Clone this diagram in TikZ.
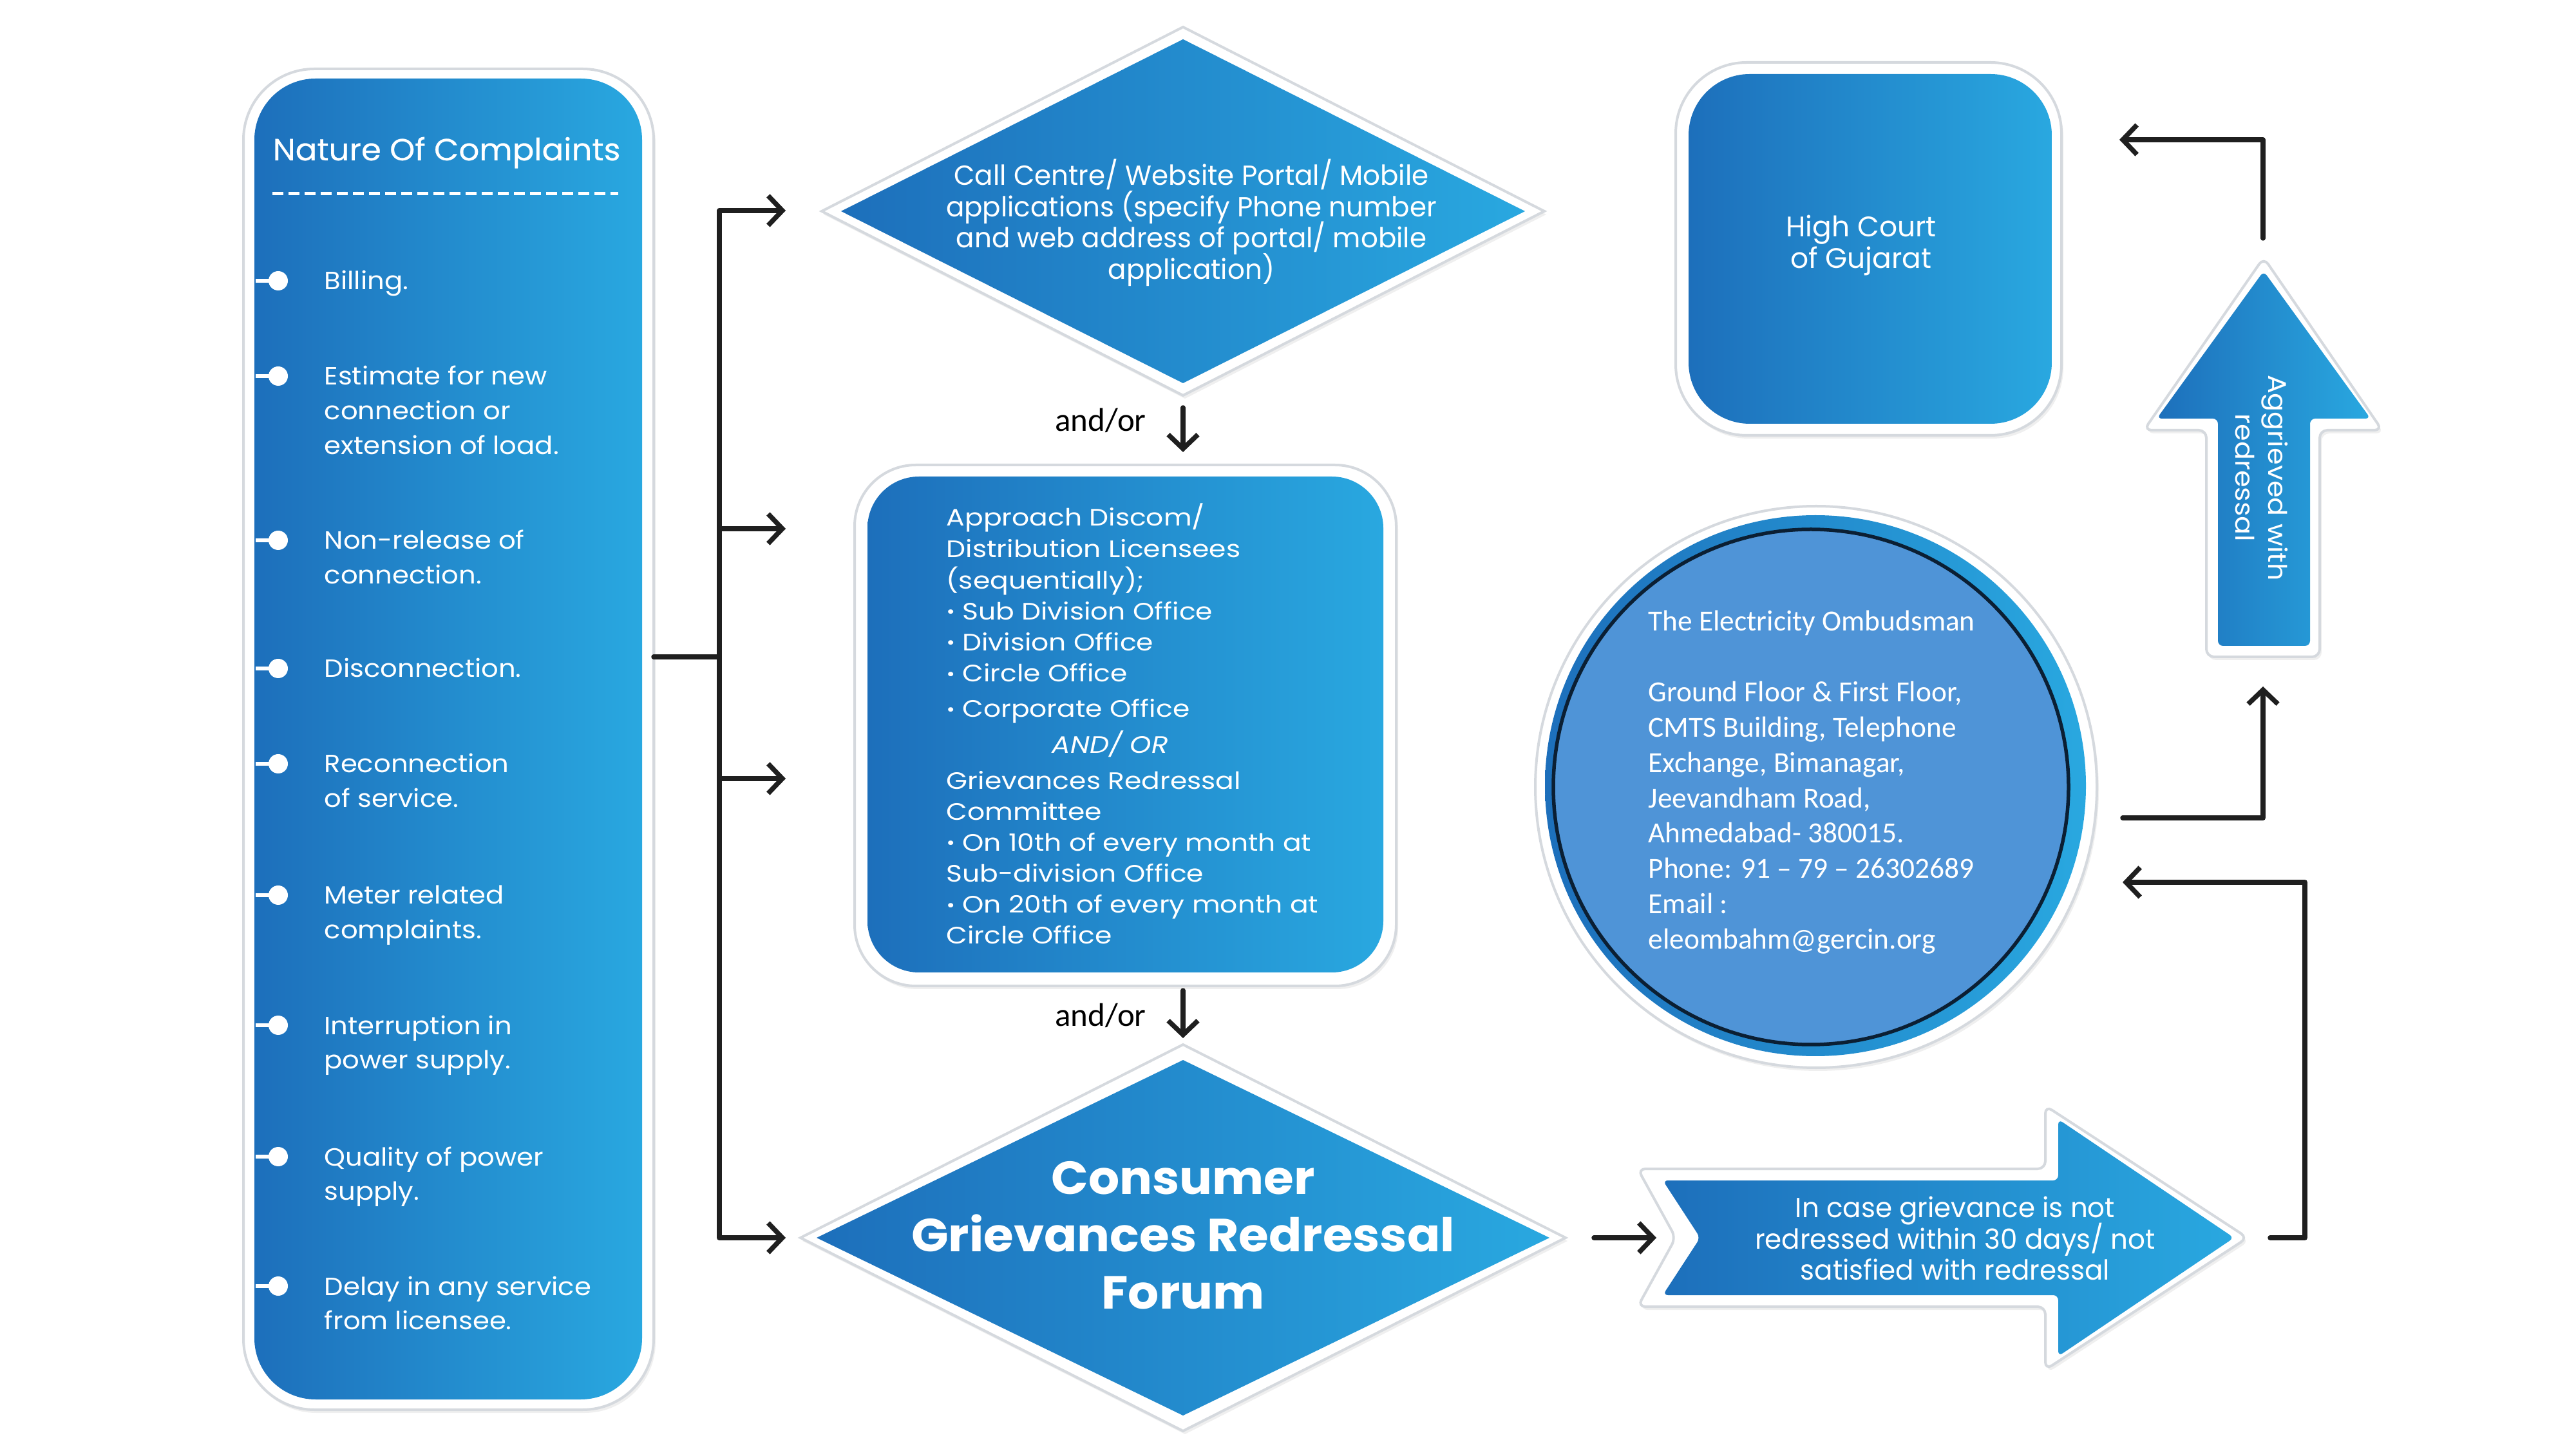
\documentclass[tikz,border=0pt]{standalone}
\usepackage{fontspec}
\setmainfont{Poppins}
\newfontfamily\popc{Poppins}[FakeStretch=0.98]
\newfontfamily\popw{Poppins}[FakeStretch=1.08]
\newfontfamily\popx{Poppins}[FakeStretch=1.15]
\newfontfamily\popb{Poppins}[FakeStretch=1.05]
\newfontfamily\popm{Poppins}[FakeBold=0.5,FakeStretch=1.05]
\newfontfamily\carl{Carlito}
\newcommand\mylines[1]{\begin{tabular}[t]{@{}l@{}}#1\end{tabular}}
\newcommand\bul{{\fontsize{8}{7}\selectfont\raisebox{0.7pt}{•}}}
\newcommand\tightls{\lineskiplimit-20pt\relax}
\usetikzlibrary{arrows.meta,calc,shadows}
\definecolor{bL}{HTML}{1D6FBB}
\definecolor{bR}{HTML}{29A8E0}
\definecolor{circfill}{HTML}{4F94D7}
\definecolor{navy}{HTML}{0B1F33}
\definecolor{edge}{HTML}{D5D9DE}
\begin{document}
\begin{tikzpicture}[
  frame/.style={fill=white, draw=edge, line width=0.04cm, drop shadow={opacity=0.12, shadow xshift=0.03cm, shadow yshift=-0.05cm}},
  grad/.style={left color=bL, right color=bR},
  conn/.style={draw=black!88, line width=0.075cm, line cap=round, line join=round},
  arr/.style={conn, -{Straight Barb[length=0.22cm,width=0.46cm]}},
  wtext/.style={text=white, inner sep=0pt},
  itemtext/.style={wtext, anchor=base west, font=\popw\fontsize{11}{15.3}\selectfont},
  ghost/.style={inner sep=0pt, outer sep=0pt},
  andor/.style={font=\carl\fontsize{14.5}{17}\selectfont, inner sep=0pt},
]
\useasboundingbox (0,0) rectangle (40,-22.5);
\fill[white] (0,0) rectangle (40,-22.5);

% ---------- Left panel ----------
\path[frame, rounded corners=1.1cm] (3.78,-1.07) rectangle (10.15,-21.89);
\shade[grad, rounded corners=0.95cm] (3.95,-1.22) rectangle (9.97,-21.73);
\node[ghost, minimum width=6.37cm, minimum height=20.82cm] (nature) at (6.965,-11.48) {};
\node[wtext, anchor=west, font=\popm\fontsize{13.5}{15}\selectfont] (title) at (4.23,-2.37) {Nature Of Complaints};
\draw[white, line width=0.05cm, dash pattern=on 0.17cm off 0.08cm] (4.23,-3.01) -- (9.60,-3.01);
\foreach \y/\t [count=\i] in {
  4.36/{Billing.},
  5.84/{Estimate for new\\connection or\\extension of load.},
  8.39/{Non-release of\\connection.},
  10.38/{Disconnection.},
  11.86/{Reconnection\\of service.},
  13.90/{Meter related\\complaints.},
  15.92/{Interruption in\\power supply.},
  17.96/{Quality of power\\supply.},
  19.97/{Delay in any service\\from licensee.}} {
  \draw[white, line width=0.06cm] (3.97,-\y) -- (4.32,-\y);
  \fill[white] (4.32,-\y) circle (0.15);
  \node[itemtext] (item\i) at (5.03,{-\y-0.14}) {\mylines{\t}};
}

% ---------- Call centre diamond ----------
\path[frame] (12.76,-3.28) -- (18.37,-0.42) -- (23.98,-3.28) -- (18.37,-6.14) -- cycle;
\shade[grad] (13.06,-3.28) -- (18.37,-0.61) -- (23.68,-3.28) -- (18.37,-5.95) -- cycle;
\node[ghost, minimum width=11.22cm, minimum height=5.72cm] (cc) at (18.37,-3.28) {};
\node[wtext, align=center, font=\popc\fontsize{12.2}{13.8}\selectfont\tightls] (cctext) at (18.50,-3.46)
  {Call Centre/ Website Portal/ Mobile\\applications (specify Phone number\\and web address of portal/ mobile\\application)};

% ---------- Approach box ----------
\path[frame, rounded corners=0.95cm] (13.27,-7.22) rectangle (21.68,-15.31);
\shade[grad, rounded corners=0.8cm] (13.47,-7.40) rectangle (21.48,-15.10);
\node[ghost, minimum width=8.41cm, minimum height=8.09cm] (app) at (17.475,-11.265) {};
\node[wtext, anchor=base west, font=\popx\fontsize{10.5}{13.7}\selectfont] (apptext) at (14.69,-8.17)
  {\mylines{Approach Discom/\\Distribution Licensees\\(sequentially);\\\bul\ Sub Division Office\\\bul\ Division Office\\\bul\ Circle Office\\[2pt]\bul\ Corporate Office\\[2pt]\hspace*{1.64cm}\textit{AND/ OR}\\[2pt]Grievances Redressal\\Committee\\\bul\ On 10th of every month at\\Sub-division Office\\\bul\ On 20th of every month at\\Circle Office}};

% ---------- CGRF diamond ----------
\path[frame] (12.43,-19.22) -- (18.37,-16.22) -- (24.31,-19.22) -- (18.37,-22.22) -- cycle;
\shade[grad] (12.68,-19.22) -- (18.37,-16.46) -- (24.06,-19.22) -- (18.37,-21.98) -- cycle;
\node[ghost, minimum width=11.88cm, minimum height=6.0cm] (cgrf) at (18.37,-19.22) {};
\node[wtext, align=center, font=\popb\bfseries\fontsize{20.5}{25.3}\selectfont] (cgrftext) at (18.37,-19.18)
  {Consumer\\Grievances Redressal\\Forum};

% ---------- In case arrow ----------
\path[frame, rounded corners=0.12cm] (25.43,-18.15) -- (31.76,-18.15) -- (31.76,-17.17) -- (34.90,-19.22) -- (31.76,-21.27) -- (31.76,-20.29) -- (25.43,-20.29) -- (26.02,-19.22) -- cycle;
\shade[grad, rounded corners=0.08cm] (25.82,-18.33) -- (31.96,-18.33) -- (31.96,-17.38) -- (34.69,-19.22) -- (31.96,-21.06) -- (31.96,-20.11) -- (25.82,-20.11) -- (26.40,-19.22) -- cycle;
\node[ghost, minimum width=9.47cm, minimum height=4.1cm] (incase) at (30.165,-19.22) {};
\node[wtext, align=center, font=\popc\fontsize{12.2}{13.8}\selectfont\tightls] (incasetext) at (30.36,-19.23)
  {In case grievance is not\\redressed within 30 days/ not\\satisfied with redressal};

% ---------- Ombudsman circle ----------
\path[fill=white, draw=edge, line width=0.04cm, drop shadow={opacity=0.12, shadow xshift=0.03cm, shadow yshift=-0.05cm}] (28.20,-12.22) circle (4.36);
\shade[grad] (28.19,-12.20) circle (4.20);
\draw[navy, fill=circfill, line width=0.055cm] (28.12,-12.22) circle (4.00);
\node[ghost, circle, minimum size=8.72cm] (omb) at (28.20,-12.22) {};
\node[wtext, anchor=base west, font=\carl\fontsize{12.9}{15.6}\selectfont] (ombtext) at (25.59,-9.80)
  {\mylines{The Electricity Ombudsman\\[15.6pt]Ground Floor \& First Floor,\\CMTS Building, Telephone\\Exchange, Bimanagar,\\Jeevandham Road,\\Ahmedabad- 380015.\\Phone: 91 – 79 – 26302689\\Email :\\eleombahm@gercin.org}};

% ---------- High Court ----------
\path[frame, rounded corners=1.1cm] (26.02,-0.97) rectangle (32.01,-6.76);
\shade[grad, rounded corners=0.95cm] (26.22,-1.15) rectangle (31.86,-6.58);
\node[ghost, minimum width=5.99cm, minimum height=5.79cm] (hc) at (29.015,-3.865) {};
\node[wtext, align=center, font=\fontsize{12.5}{13.7}\selectfont\tightls] (hctext) at (28.90,-3.81) {High Court\\of Gujarat};

% ---------- Up arrow ----------
\path[frame, rounded corners=0.12cm] (35.15,-4.00) -- (36.99,-6.68) -- (36.02,-6.68) -- (36.02,-10.20) -- (34.26,-10.20) -- (34.26,-6.68) -- (33.29,-6.68) -- cycle;
\shade[grad, rounded corners=0.08cm] (35.15,-4.21) -- (36.81,-6.50) -- (35.87,-6.50) -- (35.87,-10.03) -- (34.44,-10.03) -- (34.44,-6.50) -- (33.49,-6.50) -- cycle;
\node[ghost, minimum width=3.70cm, minimum height=6.20cm] (agg) at (35.14,-7.10) {};
\node[wtext, align=center, rotate=-90, font=\popw\fontsize{11.3}{14.5}\selectfont] (aggtext) at (35.12,-7.42) {Aggrieved with\\redressal};

% ---------- Connectors ----------
\coordinate (jn) at (11.17,-10.20);
\coordinate (e1) at (12.20,-3.27);
\coordinate (e2) at (12.20,-8.21);
\coordinate (e3) at (12.20,-12.09);
\coordinate (e4) at (12.20,-19.22);
\draw[conn] (nature.east |- jn) -- (jn);
\draw[conn] (jn |- e1) -- (jn |- e4);
\draw[arr] (jn |- e1) -- (e1);
\draw[arr] (jn |- e2) -- (e2);
\draw[arr] (jn |- e3) -- (e3);
\draw[arr] (jn |- e4) -- (e4);

\coordinate (d1) at (18.37,-7.02);
\coordinate (d2) at (18.37,-15.38);
\draw[arr] ([yshift=-0.19cm]cc.south) -- (d1);
\node[andor] (ao1) at (17.09,-6.53) {and/or};
\draw[arr] (d2) -- ([yshift=0.10cm]cgrf.north);
\node[andor] (ao2) at (17.09,-15.77) {and/or};

\draw[arr] ([xshift=0.44cm]cgrf.east) -- ([xshift=0.29cm]incase.west);

\coordinate (c1) at (35.79,-13.70);
\coordinate (c2) at (32.96,-13.70);
\draw[arr] ([xshift=0.35cm]incase.east) -| (c1) -- (c2);

\coordinate (o1) at (32.96,-12.70);
\draw[arr] (o1) -| ([yshift=-0.46cm]agg.south);

\coordinate (h1) at (32.91,-2.17);
\draw[arr] ([yshift=0.30cm]agg.north) |- (h1);
\end{tikzpicture}
\end{document}
